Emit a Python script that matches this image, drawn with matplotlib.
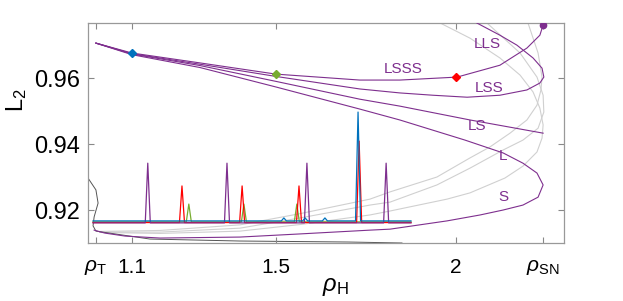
import numpy as np
import matplotlib
matplotlib.use('Agg')
import matplotlib.pyplot as plt

plt.rcParams['font.family'] = ['Liberation Sans', 'DejaVu Sans']
plt.rcParams['mathtext.fontset'] = 'custom'
plt.rcParams['mathtext.rm'] = 'Liberation Sans'
plt.rcParams['mathtext.it'] = 'Liberation Sans:italic'

PURPLE = '#7E2F8E'
BLUE = '#0072BD'
RED = '#FF0000'
GREEN = '#77AC30'
GREY = '#D0D0D0'
DARK = '#555555'

# ---------------- data ----------------
rho_T = 1.0
rho_SN = 2.242
xtick_vals = [rho_T, 1.1, 1.5, 2.0, rho_SN]
xtick_labels = [r'$\rho_{\rm T}$', '1.1', '1.5', '2', r'$\rho_{\rm SN}$']
ytick_vals = [0.92, 0.94, 0.96]
ytick_labels = ['0.92', '0.94', '0.96']

# branch LSSS
lsss_rho = [1.000, 1.100, 1.289, 1.500, 1.733, 1.844, 2.003, 2.122, 2.197, 2.233, 2.242]
lsss_L = [0.9706, 0.9676, 0.9646, 0.9612, 0.9594, 0.9594, 0.9603, 0.9639, 0.9691, 0.9730, 0.9761]

# branch LSS / LLS
lss_rho = [1.000, 1.100, 1.289, 1.500, 1.733, 1.844, 1.936, 2.031, 2.122, 2.197, 2.233,
           2.244, 2.239, 2.214, 2.169, 2.122, 2.058]
lss_L = [0.9706, 0.9674, 0.9642, 0.9605, 0.9567, 0.9555, 0.9548, 0.9542, 0.9548, 0.9564, 0.9585,
         0.9603, 0.9630, 0.9661, 0.9700, 0.9730, 0.9767]

# branch LS
ls_rho = [1.000, 1.100, 1.289, 1.500, 1.733, 1.844, 2.039, 2.242]
ls_L = [0.9706, 0.9673, 0.9638, 0.9590, 0.9536, 0.9515, 0.9473, 0.9433]

# branch L / S
ls1_rho = [1.000, 1.100, 1.289, 1.500, 1.733, 1.844, 2.025, 2.131, 2.186, 2.225, 2.242,
           2.228, 2.186, 2.131, 2.067, 1.975, 1.817, 1.761, 1.558, 1.400, 1.178, 1.081, 1.025, 0.995]
ls1_L = [0.9706, 0.9671, 0.9632, 0.9573, 0.9506, 0.9473, 0.9412, 0.9373, 0.9342, 0.9312, 0.9276,
         0.9239, 0.9215, 0.9200, 0.9185, 0.9167, 0.9142, 0.9139, 0.9127, 0.9118, 0.9115, 0.9121, 0.9130, 0.9139]

# grey family of curves
ga_rho = [1.011, 1.178, 1.400, 1.567, 1.761, 1.817, 1.975, 2.039, 2.136, 2.186, 2.225, 2.239,
          2.242, 2.233, 2.214, 2.178, 2.122, 2.039, 1.956]
ga_L = [0.9132, 0.9129, 0.9136, 0.9156, 0.9185, 0.9197, 0.9233, 0.9252, 0.9297, 0.9333, 0.9376,
        0.9418, 0.9458, 0.9509, 0.9558, 0.9609, 0.9661, 0.9721, 0.9767]
gb_rho = [1.011, 1.178, 1.400, 1.567, 1.761, 1.817, 1.947, 2.039, 2.131, 2.186, 2.228, 2.244,
          2.242, 2.225, 2.178, 2.086]
gb_L = [0.9133, 0.9133, 0.9145, 0.9176, 0.9215, 0.9224, 0.9276, 0.9327, 0.9382, 0.9412, 0.9448,
        0.9497, 0.9548, 0.9603, 0.9676, 0.9767]
gc_rho = [1.011, 1.178, 1.400, 1.567, 1.761, 1.817, 1.947, 2.039, 2.094, 2.150, 2.197, 2.225,
          2.236, 2.239, 2.228, 2.200]
gc_L = [0.9135, 0.9138, 0.9155, 0.9189, 0.9233, 0.9255, 0.9300, 0.9358, 0.9391, 0.9433, 0.9473,
        0.9518, 0.9564, 0.9603, 0.9676, 0.9767]

# rho_T curve
t_rho = [0.978, 1.000, 1.006, 0.995, 0.992, 1.000, 1.150, 1.400, 1.700, 1.850]
t_L = [0.9297, 0.9261, 0.9221, 0.9179, 0.9152, 0.9136, 0.9112, 0.9106, 0.9103, 0.9100]

# markers
diam_rho = [1.1, 1.5, 2.0]
diam_L = [0.9676, 0.9612, 0.9603]
diam_colors = [BLUE, GREEN, RED]
sn_point = (2.242, 0.9761)

# time-series pulses (inset drawn in the same axes)
trace_start, trace_end = 0.992, 1.875
base_blue = 0.9167
base_other = 0.9162
purple_peaks = [1.144, 1.364, 1.586, 1.806]
purple_tops = [0.9342, 0.9342, 0.9342, 0.9342]
red_peaks = [1.239, 1.406, 1.564, 1.731]
red_tops = [0.9273, 0.9273, 0.9273, 0.9409]
green_peaks = [1.258, 1.411, 1.558]
green_tops = [0.9218, 0.9218, 0.9218]
blue_peaks = [1.522, 1.581, 1.636, 1.728]
blue_tops = [0.9176, 0.9176, 0.9176, 0.9497]

labels = ['LLS', 'LSSS', 'LSS', 'LS', 'L', 'S']
label_rho = [2.086, 1.853, 2.092, 2.058, 2.131, 2.131]
label_L = [0.9703, 0.9627, 0.9570, 0.9455, 0.9364, 0.9239]

# ---------------- figure ----------------
fig = plt.figure(figsize=(6.23, 3.01), dpi=100)
ax = fig.add_axes([88 / 623, 58 / 301, 476 / 623, 220 / 301])
ax.set_xlim(0.978, 2.3)
ax.set_ylim(0.91, 0.9767)

for r, l in [(ga_rho, ga_L), (gb_rho, gb_L), (gc_rho, gc_L)]:
    ax.plot(r, l, color=GREY, lw=0.8, zorder=1)
ax.plot(t_rho, t_L, color=DARK, lw=0.7, zorder=1)


def pulse_trace(peaks, tops, base, hw=0.007):
    xs = [trace_start]
    ys = [base]
    for p, t in sorted(zip(peaks, tops)):
        xs += [p - hw, p, p + hw]
        ys += [base, t, base]
    xs.append(trace_end)
    ys.append(base)
    return xs, ys


for peaks, tops, base, c in [(green_peaks, green_tops, base_other + 0.0002, GREEN),
                             (red_peaks, red_tops, base_other, RED),
                             (purple_peaks, purple_tops, base_other - 0.0001, PURPLE),
                             (blue_peaks, blue_tops, base_blue, BLUE)]:
    xs, ys = pulse_trace(peaks, tops, base)
    ax.plot(xs, ys, color=c, lw=0.9, zorder=2)

for r, l in [(lsss_rho, lsss_L), (lss_rho, lss_L), (ls_rho, ls_L), (ls1_rho, ls1_L)]:
    ax.plot(r, l, color=PURPLE, lw=0.8, zorder=3)

for r, l, c in zip(diam_rho, diam_L, diam_colors):
    ax.plot(r, l, marker='D', ms=4, color=c, mec=c, zorder=4)
ax.plot(*sn_point, marker='o', ms=4.5, color=PURPLE, zorder=4)

for t, r, l in zip(labels, label_rho, label_L):
    ax.text(r, l, t, color=PURPLE, fontsize=11, ha='center', va='center', zorder=5)

ax.set_xticks(xtick_vals)
ax.set_xticklabels(xtick_labels)
ax.set_yticks(ytick_vals)
ax.set_yticklabels(ytick_labels)
ax.tick_params(direction='in', length=4, width=0.8, color='#888888',
               top=True, right=True)
ax.tick_params(axis='x', pad=11, labelsize=15)
ax.tick_params(axis='y', pad=6, labelsize=17)
for s in ax.spines.values():
    s.set_color('#999999')
    s.set_linewidth(0.9)

ax.set_xlabel(r'$\rho_{\rm H}$', fontsize=17)
ax.xaxis.set_label_coords((335 - 88) / 476, -(276 - 243) / 220)
ax.set_ylabel(r'L$_2$', fontsize=17)
ax.yaxis.set_label_coords(-(88 - 29) / 476, 1 - (100 - 23) / 220)

fig.savefig('out.png', dpi=100)
